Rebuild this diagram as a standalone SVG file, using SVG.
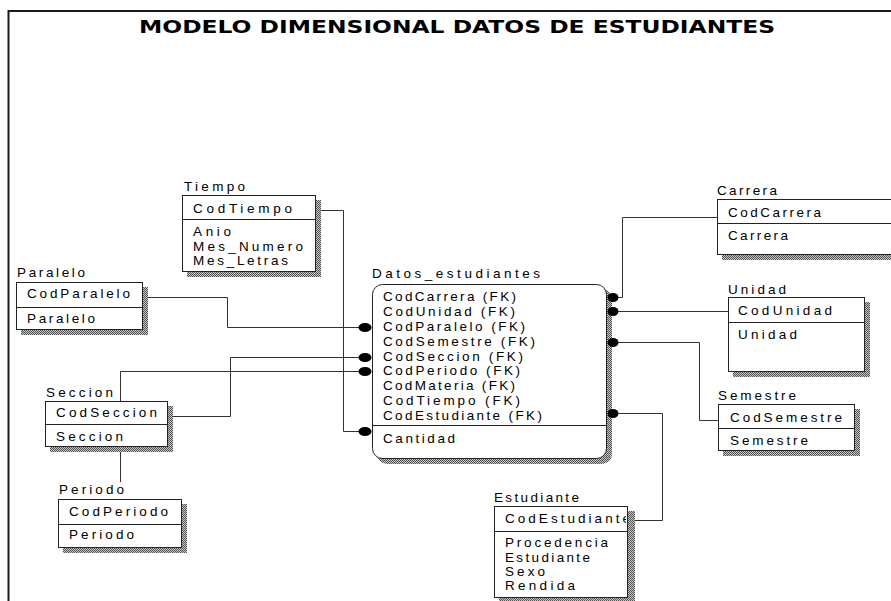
<svg xmlns="http://www.w3.org/2000/svg" width="891" height="601" viewBox="0 0 891 601">
<defs>
<pattern id="hatch" width="2" height="2" patternUnits="userSpaceOnUse">
<rect width="2" height="2" fill="#c4c4c4"/>
<rect width="1" height="1" fill="#555"/>
<rect x="1" y="1" width="1" height="1" fill="#555"/>
</pattern>
<clipPath id="estClip"><rect x="495" y="507" width="131" height="24"/></clipPath>
<style>
.frame{stroke:#1a1a1a;stroke-width:2;fill:none}
.box{fill:#fff;stroke:#222;stroke-width:1}
.shadow{fill:url(#hatch)}
.div{stroke:#222;stroke-width:1}
.t{font-family:"Liberation Sans",Arial,sans-serif;font-size:13.5px;fill:#000}
.title{font-family:"DejaVu Sans","Liberation Sans",sans-serif;font-size:17.5px;font-weight:bold;fill:#000}
.conn{stroke:#333;stroke-width:1;fill:none}
.dot{fill:#000}
</style>
</defs>
<rect width="891" height="601" fill="#fff"/>
<path class="frame" d="M8.5,601 V11 H891"/>
<text class="title" x="457" y="33" text-anchor="middle" textLength="636" lengthAdjust="spacingAndGlyphs">MODELO DIMENSIONAL DATOS DE ESTUDIANTES</text>

<g id="connectors">
<path class="conn" d="M316,210.5 H343.5 V431.5 H365"/>
<path class="conn" d="M143,297.5 H227.5 V327.5 H365"/>
<path class="conn" d="M168,416.5 H230.5 V357.5 H365"/>
<path class="conn" d="M120.5,482 V371.5 H365"/>
<path class="conn" d="M613,297.5 H622.5 V217.5 H717"/>
<path class="conn" d="M613,311.5 H728"/>
<path class="conn" d="M613,342.5 H699.5 V420.5 H718"/>
<path class="conn" d="M613,413.5 H662.5 V520.5 H627"/>
</g>

<g id="Tiempo">
<text class="t" x="184" y="191" textLength="61">Tiempo</text>
<rect class="shadow" x="187" y="200" width="134" height="77"/>
<rect class="box" x="182.5" y="195.5" width="133" height="76"/>
<line class="div" x1="182.5" y1="219.5" x2="315.5" y2="219.5"/>
<text class="t" x="193" y="213" textLength="99">CodTiempo</text>
<text class="t" x="193" y="236" textLength="38">Anio</text>
<text class="t" x="193" y="251" textLength="110">Mes_Numero</text>
<text class="t" x="193" y="265" textLength="95">Mes_Letras</text>
</g>

<g id="Paralelo">
<text class="t" x="17" y="277" textLength="68">Paralelo</text>
<rect class="shadow" x="21" y="287" width="127" height="48"/>
<rect class="box" x="16.5" y="282.5" width="126" height="47"/>
<line class="div" x1="16.5" y1="307.5" x2="142.5" y2="307.5"/>
<text class="t" x="27" y="298" textLength="103">CodParalelo</text>
<text class="t" x="27" y="323" textLength="68">Paralelo</text>
</g>

<g id="Seccion">
<text class="t" x="46" y="397" textLength="67">Seccion</text>
<rect class="shadow" x="50" y="406" width="123" height="46"/>
<rect class="box" x="45.5" y="401.5" width="122" height="45"/>
<line class="div" x1="45.5" y1="424.5" x2="167.5" y2="424.5"/>
<text class="t" x="56" y="417" textLength="101">CodSeccion</text>
<text class="t" x="56" y="441" textLength="67">Seccion</text>
</g>

<g id="Periodo">
<text class="t" x="59" y="494" textLength="65">Periodo</text>
<rect class="shadow" x="63" y="504" width="124" height="49"/>
<rect class="box" x="58.5" y="499.5" width="123" height="48"/>
<line class="div" x1="58.5" y1="524.5" x2="181.5" y2="524.5"/>
<text class="t" x="69" y="516" textLength="99">CodPeriodo</text>
<text class="t" x="69" y="539" textLength="65">Periodo</text>
</g>

<g id="Datos_estudiantes">
<text class="t" x="372" y="278" textLength="168">Datos_estudiantes</text>
<rect class="shadow" x="377" y="289" width="235" height="175" rx="10"/>
<rect class="box" x="372.5" y="284.5" width="234" height="174" rx="10"/>
<line class="div" x1="372.5" y1="425.5" x2="606.5" y2="425.5"/>
<text class="t" x="383" y="301" textLength="133">CodCarrera (FK)</text>
<text class="t" x="383" y="316" textLength="132">CodUnidad (FK)</text>
<text class="t" x="383" y="331" textLength="142">CodParalelo (FK)</text>
<text class="t" x="383" y="346" textLength="152">CodSemestre (FK)</text>
<text class="t" x="383" y="361" textLength="140">CodSeccion (FK)</text>
<text class="t" x="383" y="375" textLength="137">CodPeriodo (FK)</text>
<text class="t" x="383" y="390" textLength="132">CodMateria (FK)</text>
<text class="t" x="383" y="405" textLength="137">CodTiempo (FK)</text>
<text class="t" x="383" y="420" textLength="159">CodEstudiante (FK)</text>
<text class="t" x="383" y="443" textLength="72">Cantidad</text>
</g>

<g id="Carrera">
<text class="t" x="717" y="195" textLength="60">Carrera</text>
<rect class="shadow" x="722" y="204" width="200" height="56"/>
<rect class="box" x="717.5" y="199.5" width="200" height="55"/>
<line class="div" x1="717.5" y1="223.5" x2="891" y2="223.5"/>
<text class="t" x="728" y="217" textLength="93">CodCarrera</text>
<text class="t" x="728" y="240" textLength="60">Carrera</text>
</g>

<g id="Unidad">
<text class="t" x="728" y="294" textLength="58">Unidad</text>
<rect class="shadow" x="733" y="302" width="137" height="75"/>
<rect class="box" x="728.5" y="297.5" width="136" height="74"/>
<line class="div" x1="728.5" y1="322.5" x2="864.5" y2="322.5"/>
<text class="t" x="738" y="315" textLength="94">CodUnidad</text>
<text class="t" x="738" y="339" textLength="59">Unidad</text>
</g>

<g id="Semestre">
<text class="t" x="718" y="400" textLength="78">Semestre</text>
<rect class="shadow" x="723" y="409" width="137" height="47"/>
<rect class="box" x="718.5" y="404.5" width="136" height="46"/>
<line class="div" x1="718.5" y1="428.5" x2="854.5" y2="428.5"/>
<text class="t" x="730" y="422" textLength="112">CodSemestre</text>
<text class="t" x="730" y="445" textLength="78">Semestre</text>
</g>

<g id="Estudiante">
<text class="t" x="494" y="502" textLength="85">Estudiante</text>
<rect class="shadow" x="499" y="511" width="136" height="92"/>
<rect class="box" x="494.5" y="506.5" width="133" height="91"/>
<line class="div" x1="494.5" y1="531.5" x2="627.5" y2="531.5"/>
<text class="t" x="505" y="523" textLength="125" clip-path="url(#estClip)">CodEstudiante</text>
<text class="t" x="505" y="547" textLength="103">Procedencia</text>
<text class="t" x="505" y="562" textLength="85">Estudiante</text>
<text class="t" x="505" y="576" textLength="40">Sexo</text>
<text class="t" x="505" y="590" textLength="70">Rendida</text>
</g>

<g id="connector-ends">
<ellipse class="dot" cx="365" cy="327.5" rx="6.5" ry="4.5"/>
<ellipse class="dot" cx="365" cy="357.5" rx="6.5" ry="4.5"/>
<ellipse class="dot" cx="365" cy="371.5" rx="6.5" ry="4.5"/>
<ellipse class="dot" cx="365" cy="431.5" rx="6.5" ry="4.5"/>
<ellipse class="dot" cx="613" cy="297.5" rx="5.5" ry="4.5"/>
<ellipse class="dot" cx="613" cy="311.5" rx="5.5" ry="4.5"/>
<ellipse class="dot" cx="613" cy="342.5" rx="5.5" ry="4.5"/>
<ellipse class="dot" cx="613" cy="413.5" rx="5.5" ry="4.5"/>
</g>
</svg>
